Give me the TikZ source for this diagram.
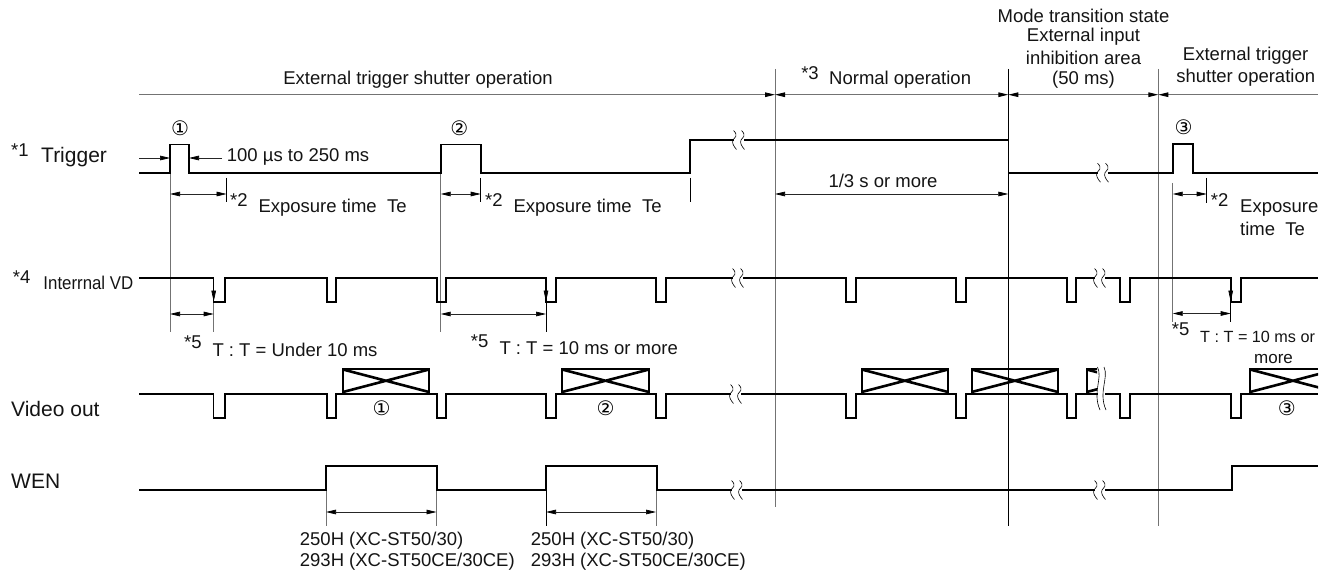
\documentclass[tikz,border=0pt]{standalone}
\usepackage{fontspec}
\setmainfont{Liberation Sans}
\newfontfamily\symf{DejaVu Sans}
\usetikzlibrary{arrows.meta}
\definecolor{gl}{gray}{0.45}
\tikzset{
 x=1pt,y=-1pt,
 tipa/.tip={Triangle[length=10pt,width=4.6pt,color=black]},
 sig/.style={line width=1.9pt,black,line join=miter},
 thin1/.style={line width=0.9pt,black},
 guide/.style={line width=1pt,gl},
 dim/.style={line width=0.7pt,black!85,tipa-tipa},
 dimr/.style={line width=0.7pt,black!85,-tipa},
 dop/.style={line width=0.9pt,gl,-tipa},
 dopb/.style={line width=0.9pt,gl,tipa-tipa},
 dopl/.style={line width=0.9pt,gl,tipa-},
 vtip/.style={line width=0.7pt,black,-{Triangle[length=11pt,width=4.6pt,color=black]}},
 txt/.style={inner sep=0pt,font=\fontsize{18.5}{20}\selectfont,text=black!92},
 lab/.style={txt,anchor=west},
 biglab/.style={lab,font=\fontsize{21}{23}\selectfont},
 circ/.style={inner sep=0pt,font=\fontsize{20}{22}\symf},
 xbox/.style={line width=2pt,black},
 xdiag/.style={line width=2.6pt,black},
}
\newcommand{\brk}[3][9.5]{% x,y ; half height
 \fill[white] (#2-4.5,#3-#1) -- (#2+5.5,#3-#1) -- (#2+5.5,#3+#1) -- (#2-4.5,#3+#1) -- cycle;
 \foreach \d in {-5,3}{
 \draw[line width=0.6pt,black] (#2+\d+0.5,#3-#1) .. controls (#2+\d+5.5,#3-#1*0.5) and (#2+\d+2,#3-#1*0.2) .. (#2+\d,#3) .. controls (#2+\d-1.5,#3+#1*0.3) and (#2+\d+1,#3+#1*0.7) .. (#2+\d+3.5,#3+#1);}
}
\newcommand{\xb}[4]{\draw[xdiag] (#1,#3) -- (#2,#4) (#1,#4) -- (#2,#3);}
\begin{document}
\begin{tikzpicture}
\useasboundingbox (0,0) rectangle (1325,572);
% guides
\draw[guide] (775,69) -- (775,506.5);
\draw[thin1] (1008.3,69) -- (1008.3,526);
\draw[guide] (1158.3,69) -- (1158.3,526);
\draw[guide] (170,173) -- (170,332);
\draw[guide] (213.7,302) -- (213.7,332);
\draw[guide] (440.7,173) -- (440.7,332);
\draw[thin1] (546,302) -- (546,332);
\draw[guide] (1172.7,183) -- (1172.7,322);
\draw[thin1] (1230.7,302) -- (1230.7,322);
\draw[thin1] (226.6,178) -- (226.6,202);
\draw[thin1] (480.7,178) -- (480.7,202);
\draw[thin1] (690,178) -- (690,202);
\draw[thin1] (1206.7,178) -- (1206.7,203);
\draw[guide] (326,490) -- (326,526);
\draw[guide] (436.5,490) -- (436.5,526);
\draw[thin1] (546,490) -- (546,526);
\draw[guide] (656,490) -- (656,526);
% top dims
\coordinate (t0) at (139,94.7); \coordinate (t1) at (775,94.7); \coordinate (t2) at (1008.3,94.7); \coordinate (t3) at (1158.3,94.7); \coordinate (t4) at (1318,94.7);
\draw[dop] (t0) -- (t1);
\draw[dopb] (t1) -- (t2);
\draw[dopb] (t2) -- (t3);
\draw[dopl] (t3) -- (t4);
% trigger
\draw[sig] (139,172.7) -| (170,144.5) -| (188.7,172.7) -| (440.7,144.5) -| (480.7,172.7) -| (690,140) -- (1008.5,140) |- (1173,172.7) |- (1192.7,144.3) |- (1318,172.7);
\brk{738}{140}
\brk{1102}{172.7}
\draw[dimr] (139,158) -- (170,158);
\draw[dimr] (222,158) -- (189,158);
\draw[dim] (170,194) -- (226.6,194);
\draw[dim] (440.7,194) -- (480.7,194);
\draw[dim] (775,194) -- (1008.3,194);
\draw[dim] (1172.7,194) -- (1206.7,194);
% VD
\draw[sig] (139,278) -| (213.5,301.7) -| (225,278) -| (326.7,301.7) -| (336,278) -| (436.7,301.7) -| (446,278) -| (546,301.7) -| (555.7,278) -| (656,301.7) -| (666,278) -| (846,301.7) -| (856,278) -| (956,301.7) -| (966,278) -| (1067,301.7) -| (1076,278) -| (1120,301.7) -| (1130,278) -| (1230.7,301.7) -| (1240.7,278) -- (1318,278);
\brk{737}{278}
\brk{1099}{278}
\draw[vtip] (213.7,285) -- (213.7,301.5);
\draw[vtip] (546,285) -- (546,301.5);
\draw[vtip] (1230.7,285) -- (1230.7,301.5);
\draw[dim] (170,314) -- (213.7,314);
\draw[dim] (440.7,314) -- (546,314);
\draw[dim] (1172.7,313.5) -- (1230.7,313.5);
% video
\draw[sig] (139,394) -| (213.5,417.7) -| (225,394) -| (326.7,417.7) -| (336,394) -| (436.7,417.7) -| (446,394) -| (546,417.7) -| (555.7,394) -| (656,417.7) -| (666,394) -| (846,417.7) -| (856,394) -| (956,417.7) -| (966,394) -| (1067,417.7) -| (1076,394) -| (1120,417.7) -| (1130,394) -| (1230.7,417.7) -| (1240.7,394) -- (1318,394);
\foreach \a/\b in {343/429,562/649,861.7/948,971.7/1058}{
 \draw[xbox] (\a,394) -- (\a,369) -- (\b,369) -- (\b,394);
 \xb{\a}{\b}{369.5}{392}
}
\draw[xbox] (1250,394) -- (1250,369) -- (1318,369);
\begin{scope}
\clip (1240,360) rectangle (1318,400);
\xb{1250}{1336}{369.5}{392}
\end{scope}
\begin{scope}
\clip (1080,360) rectangle (1097,393);
\draw[xbox] (1086.7,394) -- (1086.7,369) -- (1110,369);
\xb{1086.7}{1173}{369.5}{392}
\end{scope}
\brk{735}{394}
\fill[white] (1097.5,365) rectangle (1105,396);
\draw[line width=0.6pt] (1097.5,367) .. controls (1103,378) and (1092,392) .. (1100,410);
\draw[line width=0.6pt] (1104,367) .. controls (1109,378) and (1098,392) .. (1106,410);
% WEN
\draw[sig] (139,490) -| (326,466) -| (436.7,490) -| (546,466) -| (656.7,490) -| (1231.7,466) -- (1318,466);
\brk{736}{490}
\brk{1099}{490}
\draw[dim] (326,512) -- (436.5,512);
\draw[dim] (546,512) -- (656,512);
% labels
\node[txt] (l1) at (418,80) {External trigger shutter operation};
\node[txt] (st3) at (810,73) {*3};
\node[lab] (l2) at (829,80) {Normal operation};
\node[txt] (m1) at (1083.5,15.7) {Mode transition state};
\node[txt] (m2) at (1083.5,36.7) {External input};
\node[txt] (m3) at (1083.5,57.5) {inhibition area};
\node[txt] (m4) at (1083.5,80) {(50 ms)};
\node[txt] (e1) at (1245.7,56) {External trigger};
\node[txt] (e2) at (1245.7,78) {shutter operation};
\node[circ] (c1) at (180,128) {①};
\node[circ] (c2) at (459.3,128) {②};
\node[circ] (c3) at (1183.7,127) {③};
\node[lab] (s1) at (11,150) {*1};
\node[biglab] (trg) at (41,157) {Trigger};
\node[lab] (w) at (226.7,157) {100 µs to 250 ms};
\node[lab] (s2a) at (230,200) {*2};
\node[lab] (ex1) at (258.3,207.7) {Exposure time\ \ Te};
\node[lab] (s2b) at (485,200) {*2};
\node[lab] (ex2) at (513.3,207.7) {Exposure time\ \ Te};
\node[txt] (om) at (883,181) {1/3 s or more};
\node[lab] (s2c) at (1210.7,200) {*2};
\node[lab] (ex3) at (1240,207.7) {Exposure};
\node[lab] (ex4) at (1240,228.7) {time\ \ Te};
\node[lab] (s4) at (12.7,276.7) {*4};
\node[lab,xscale=0.91] (vd) at (43.3,283) {Interrnal VD};
\node[lab] (s5a) at (184,342.7) {*5};
\node[lab] (t1a) at (212.3,350) {T : T = Under 10 ms};
\node[lab] (s5b) at (470.7,341) {*5};
\node[lab] (t2a) at (499.3,347.7) {T : T = 10 ms or more};
\node[lab] (s5c) at (1171.7,329.3) {*5};
\node[lab,font=\fontsize{16.2}{18}\selectfont] (t3a) at (1200,337.3) {T : T = 10 ms or};
\node[txt,font=\fontsize{17}{19}\selectfont] (t3b) at (1273.5,359) {more};
\node[biglab] (vo) at (11,409) {Video out};
\node[biglab] (wen) at (11,481) {WEN};
\node[circ] (c4) at (381.7,408) {①};
\node[circ] (c5) at (605.7,408) {②};
\node[circ] (c6) at (1286.7,408) {③};
\node[lab] (h1) at (299.7,540.7) {250H (XC-ST50/30)};
\node[lab] (h2) at (299.7,561.7) {293H (XC-ST50CE/30CE)};
\node[lab] (h3) at (530.7,540.7) {250H (XC-ST50/30)};
\node[lab] (h4) at (530.7,561.7) {293H (XC-ST50CE/30CE)};
\end{tikzpicture}
\end{document}
